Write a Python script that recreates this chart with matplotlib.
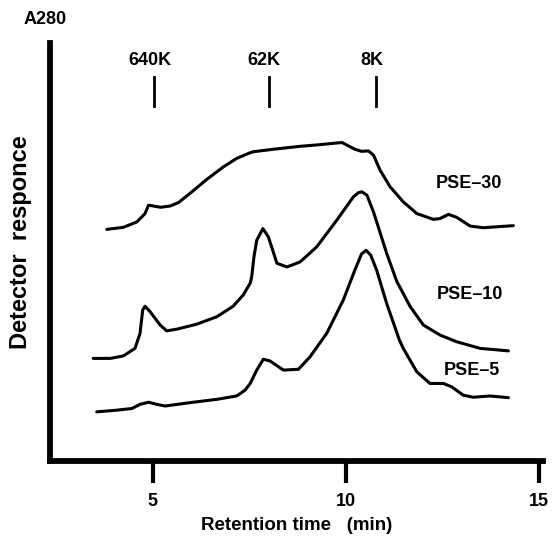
import numpy as np
import matplotlib
matplotlib.use("Agg")
import matplotlib.pyplot as plt

# retention time (min) and detector response (arbitrary units) for each sample
pse30_time = [3.81, 4.24, 4.59, 4.80, 4.89, 5.02, 5.20, 5.45, 5.66, 5.96, 6.40, 6.83, 7.17, 7.50,
              7.60, 8.12, 8.81, 9.33, 9.76, 9.90, 10.02, 10.23, 10.40, 10.58, 10.71, 10.88, 11.14,
              11.48, 11.83, 12.26, 12.43, 12.65, 12.86, 13.21, 13.55, 14.33]
pse30_resp = [55.4, 55.9, 57.2, 59.2, 61.2, 61.0, 60.7, 61.0, 61.8, 64.0, 67.4, 70.4, 72.4, 73.7,
              74.0, 74.6, 75.3, 75.7, 76.1, 76.2, 75.6, 74.6, 74.1, 74.2, 73.2, 69.6, 65.6,
              62.0, 59.2, 57.8, 58.0, 59.0, 58.3, 56.2, 55.8, 56.3]

pse10_time = [3.46, 3.90, 4.24, 4.54, 4.67, 4.74, 4.80, 4.93, 5.19, 5.36, 5.62, 6.14, 6.66,
              7.08, 7.34, 7.52, 7.56, 7.62, 7.69, 7.85, 7.99, 8.10, 8.21, 8.47, 8.81, 9.24, 9.76,
              10.19, 10.32, 10.41, 10.54, 10.71, 11.05, 11.31, 11.66, 12.00, 12.43, 12.86, 13.47, 14.20]
pse10_resp = [24.5, 24.5, 25.1, 26.9, 30.5, 36.1, 37.0, 35.7, 32.5, 31.1, 31.5, 32.7, 34.5,
              37.0, 39.7, 42.5, 44.1, 49.0, 52.8, 55.6, 53.6, 50.5, 47.3, 46.4, 47.6, 51.2, 57.6,
              63.2, 64.2, 64.4, 63.6, 59.6, 49.7, 43.0, 36.9, 32.5, 30.1, 28.5, 26.9, 26.3]

pse5_time = [3.55, 4.07, 4.46, 4.67, 4.89, 5.10, 5.32, 5.96, 6.66, 7.17, 7.39, 7.52, 7.69,
             7.86, 8.03, 8.38, 8.77, 9.07, 9.50, 9.93, 10.23, 10.40, 10.52, 10.64, 10.79, 11.05,
             11.38, 11.48, 11.83, 12.17, 12.52, 12.73, 13.03, 13.29, 13.72, 14.20]
pse5_resp = [11.7, 12.1, 12.5, 13.5, 14.0, 13.5, 13.1, 13.9, 14.7, 15.5, 16.9, 18.5, 21.7,
             24.3, 23.9, 21.7, 21.9, 24.9, 30.5, 38.5, 45.7, 49.5, 50.4, 49.2, 45.7, 37.7,
             28.9, 26.9, 21.3, 18.5, 18.5, 17.7, 15.7, 15.2, 15.5, 15.1]

# molecular weight markers
marker_names = ["640K", "62K", "8K"]
marker_times = [5.04, 8.00, 10.78]

sample_names = ["PSE\u201330", "PSE\u201310", "PSE\u20135"]
label_pos = [(13.18, 66.5), (13.21, 39.7), (13.25, 21.7)]

plt.rcParams['font.family'] = ['Liberation Sans', 'DejaVu Sans']
plt.rcParams['font.weight'] = 'bold'


def main():
    fig = plt.figure(figsize=(5.55, 5.38), dpi=100)
    ax = fig.add_axes([0.090, 0.1437, 0.888, 0.776])

    for t, r in [(pse30_time, pse30_resp), (pse10_time, pse10_resp), (pse5_time, pse5_resp)]:
        ax.plot(t, r, color='black', lw=2.2, solid_joinstyle='round', solid_capstyle='round')

    for name, (x, y) in zip(sample_names, label_pos):
        ax.text(x, y, name, ha='center', va='center', fontsize=13, fontweight='bold')

    for name, t in zip(marker_names, marker_times):
        ax.plot([t, t], [84.9, 91.9], color='black', lw=2.0)
        ax.text(t - 0.12, 95.8, name, ha='center', va='center', fontsize=13, fontweight='bold')

    ax.set_xlim(2.34, 15.09)
    ax.set_ylim(0, 100)
    ax.spines['top'].set_visible(False)
    ax.spines['right'].set_visible(False)
    for s in ['left', 'bottom']:
        ax.spines[s].set_linewidth(4.2)
        ax.spines[s].set_capstyle('projecting')

    ax.set_xticks([5, 10, 15])
    ax.set_yticks([])
    ax.tick_params(axis='x', direction='out', length=16, width=3, pad=7, labelsize=13)
    for lbl in ax.get_xticklabels():
        lbl.set_fontweight('bold')

    ax.set_xlabel('Retention time   (min)', fontsize=13.5, fontweight='bold', labelpad=5)
    ax.set_ylabel('Detector  responce', fontsize=17, fontweight='bold')
    ax.yaxis.set_label_coords(-0.036, 0.524)
    fig.text(0.081, 0.963, 'A280', ha='center', va='center', fontsize=13, fontweight='bold')

    fig.savefig('out.png', dpi=100)


if __name__ == '__main__':
    main()
